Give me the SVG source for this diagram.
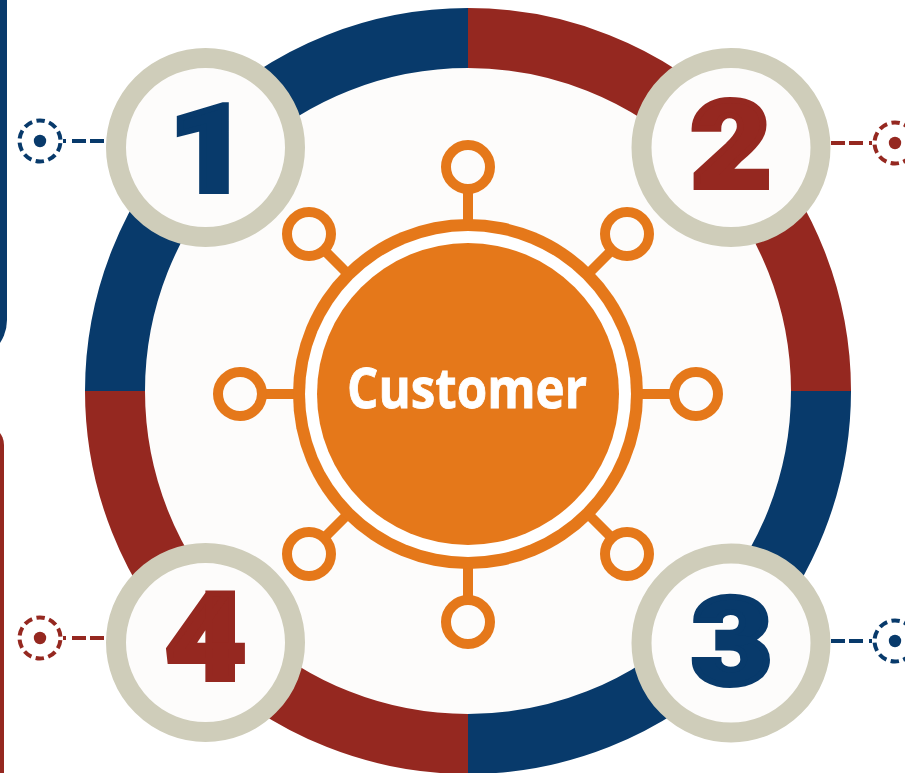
<svg xmlns="http://www.w3.org/2000/svg" width="905" height="773" viewBox="0 0 905 773">
<style>
.blue{fill:#083A6B}
.red{fill:#952820}
.segb{fill:none;stroke:#083A6B;stroke-width:60}
.segr{fill:none;stroke:#952820;stroke-width:60}
.badge{fill:#FDFCFB;stroke:#CFCDBA;stroke-width:20}
.num{font-family:Roboto,"Liberation Sans",sans-serif;font-weight:900;font-size:120px;text-anchor:middle;stroke-width:6;stroke-linejoin:miter}
.nb{fill:#083A6B;stroke:#083A6B}
.nr{fill:#952820;stroke:#952820}
.spoke{stroke:#E5781A;stroke-width:10}
.knob{fill:#FDFCFB;stroke:#E5781A;stroke-width:10}
.tgt{fill:none;stroke-width:4;stroke-dasharray:8.5 4.38;stroke-dashoffset:10.69}
.lnk{stroke-width:4;stroke-dasharray:3 6 14 4 14 4}
</style>
<rect width="905" height="773" fill="#FFFFFF"/>
<rect x="-400" y="-50" width="407" height="411" rx="41" class="blue"/>
<rect x="-400" y="425" width="404" height="400" rx="20" class="red"/>
<g id="ring">
<circle cx="468" cy="391" r="323" fill="#FDFCFB"/>
<path class="segb" d="M115 391 A353 353 0 0 1 468 38"/>
<path class="segr" d="M468 38 A353 353 0 0 1 821 391"/>
<path class="segb" d="M821 391 A353 353 0 0 1 468 744"/>
<path class="segr" d="M468 744 A353 353 0 0 1 115 391"/>
</g>
<g id="connectors">
<line class="lnk" x1="63" y1="141" x2="108" y2="141" stroke="#083A6B"/>
<line class="lnk" x1="872" y1="143" x2="831" y2="143" stroke="#952820"/>
<line class="lnk" x1="872" y1="641" x2="830" y2="641" stroke="#083A6B"/>
<line class="lnk" x1="63" y1="638" x2="107" y2="638" stroke="#952820"/>
</g>
<g id="target1"><circle class="tgt" cx="40" cy="141" r="20.5" stroke="#083A6B"/><circle cx="40" cy="141" r="6.2" class="blue"/></g>
<g id="target2"><circle class="tgt" cx="895" cy="143" r="20.5" stroke="#952820"/><circle cx="895" cy="143" r="6.2" class="red"/></g>
<g id="target3"><circle class="tgt" cx="895" cy="641" r="20.5" stroke="#083A6B"/><circle cx="895" cy="641" r="6.2" class="blue"/></g>
<g id="target4"><circle class="tgt" cx="40" cy="638" r="20.5" stroke="#952820"/><circle cx="40" cy="638" r="6.2" class="red"/></g>
<g id="hub">
<g class="spoke">
<line x1="468" y1="220" x2="468" y2="190"/>
<line x1="468" y1="568" x2="468" y2="598"/>
<line x1="294" y1="394" x2="264" y2="394"/>
<line x1="642" y1="394" x2="672" y2="394"/>
<line x1="345" y1="271" x2="325" y2="251"/>
<line x1="591" y1="271" x2="611" y2="251"/>
<line x1="345" y1="517" x2="325" y2="537"/>
<line x1="591" y1="517" x2="611" y2="537"/>
</g>
<circle class="knob" cx="468" cy="167" r="22"/>
<circle class="knob" cx="468" cy="622" r="22"/>
<circle class="knob" cx="240" cy="394" r="22"/>
<circle class="knob" cx="696" cy="394" r="22"/>
<circle class="knob" cx="309" cy="234" r="22"/>
<circle class="knob" cx="627" cy="234" r="22"/>
<circle class="knob" cx="309" cy="554" r="22"/>
<circle class="knob" cx="627" cy="554" r="22"/>
<circle cx="468" cy="394" r="175" fill="#E5781A"/>
<circle cx="468" cy="394" r="163" fill="#FFFFFF"/>
<circle cx="468" cy="394" r="151" fill="#E5781A"/>
<text x="467" y="408" font-family="'Open Sans','Noto Sans',sans-serif" font-weight="bold" font-size="55" fill="#FFFFFF" stroke="#FFFFFF" stroke-width="0.8" text-anchor="middle" textLength="240" lengthAdjust="spacingAndGlyphs">Customer</text>
</g>
<g id="badge1"><circle class="badge" cx="205.5" cy="147.5" r="89.5"/><text class="num nb" transform="translate(209 191) scale(1.15 1)">1</text></g>
<g id="badge2"><circle class="badge" cx="731" cy="147.5" r="89.5"/><text class="num nr" transform="translate(731 187) scale(1.15 1)">2</text></g>
<g id="badge3"><circle class="badge" cx="731" cy="643" r="89.5"/><text class="num nb" transform="translate(732 684) scale(1.15 1)">3</text></g>
<g id="badge4"><circle class="badge" cx="205.5" cy="642.5" r="89.5"/><text class="num nr" transform="translate(205.5 679) scale(1.15 1)">4</text></g>
</svg>
